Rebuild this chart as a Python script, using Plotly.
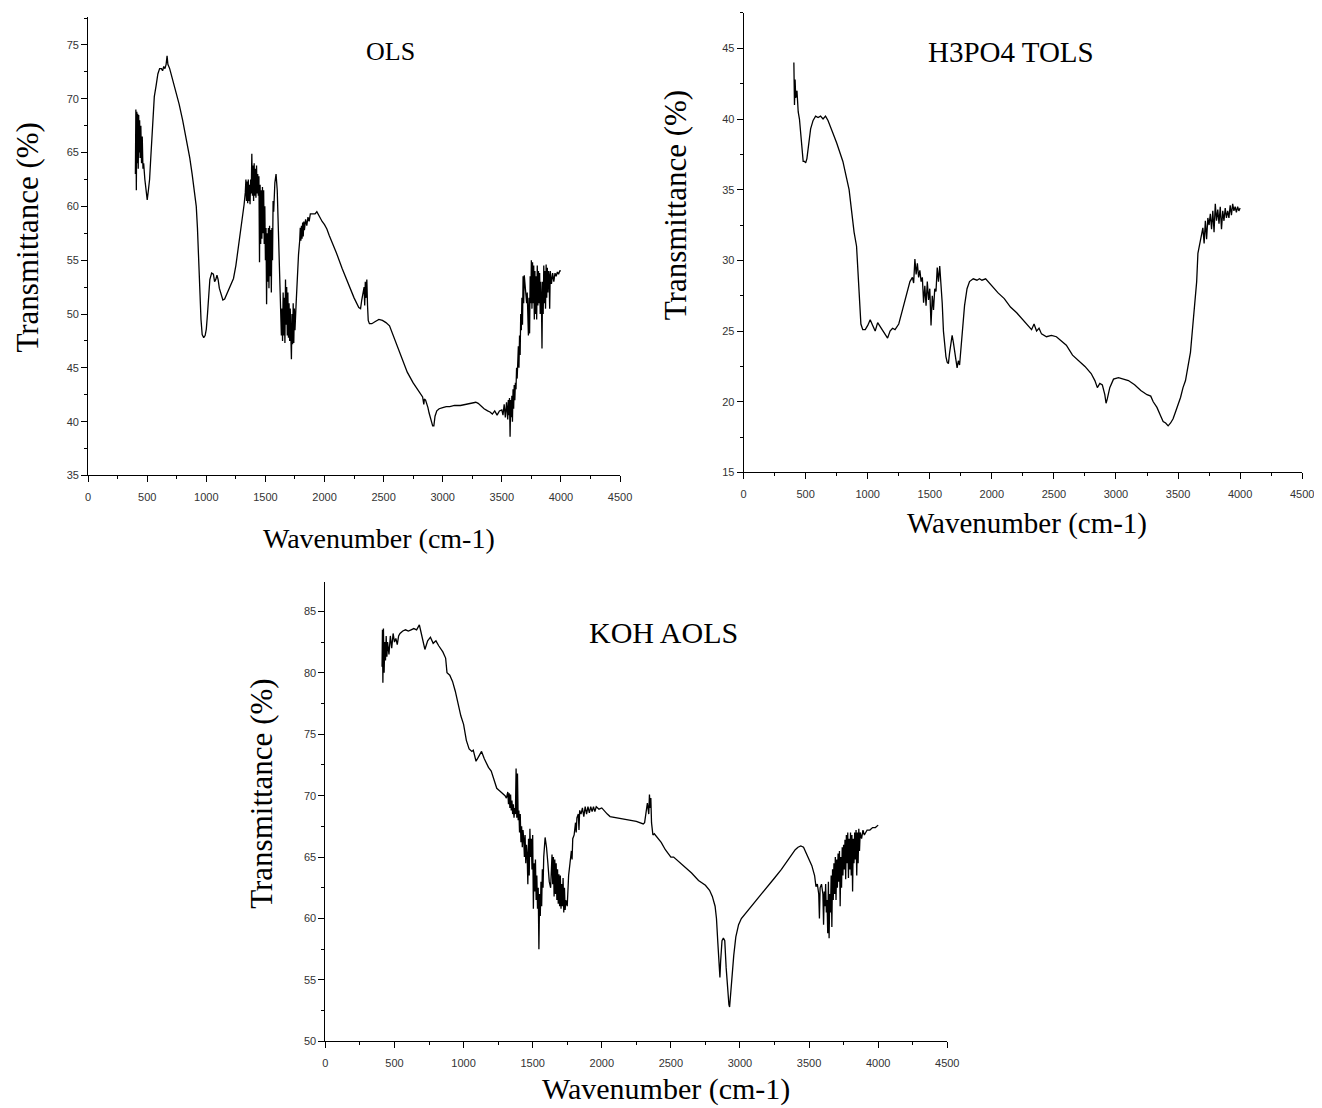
import plotly.graph_objects as go

# ---------------- OLS ----------------
ols_wn = [400, 404, 408, 412, 416, 420, 424, 428, 432, 436, 440, 446, 452, 458, 464, 470, 480, 490, 500, 510,
          520, 530, 540, 550, 560, 575, 590, 605, 620, 630, 640, 650, 660, 668, 675, 690, 710, 740, 770, 800,
          830, 860, 880, 900, 915, 925, 935, 945, 955, 965, 978, 990, 1000, 1010, 1020, 1030, 1045, 1060, 1070, 1080,
          1090, 1100, 1110, 1125, 1140, 1155, 1170, 1190, 1210, 1230, 1250, 1270, 1290, 1310, 1320, 1330, 1335, 1340, 1345, 1350,
          1355, 1360, 1365, 1370, 1375, 1380, 1385, 1390, 1395, 1400, 1405, 1410, 1415, 1420, 1425, 1430, 1435, 1440, 1445, 1450,
          1455, 1460, 1465, 1470, 1475, 1480, 1485, 1490, 1495, 1500, 1505, 1510, 1515, 1520, 1525, 1530, 1535, 1540, 1545, 1550,
          1555, 1560, 1565, 1570, 1580, 1590, 1600, 1608, 1615, 1622, 1630, 1635, 1640, 1645, 1650, 1655, 1660, 1665, 1670, 1675,
          1680, 1685, 1690, 1695, 1700, 1705, 1710, 1715, 1720, 1725, 1730, 1735, 1740, 1745, 1750, 1760, 1770, 1780, 1790, 1795,
          1800, 1805, 1810, 1815, 1820, 1825, 1830, 1840, 1850, 1860, 1870, 1880, 1900, 1920, 1935, 1950, 1965, 1980, 2000, 2020,
          2040, 2060, 2100, 2150, 2200, 2250, 2290, 2305, 2315, 2325, 2335, 2340, 2345, 2350, 2358, 2364, 2370, 2380, 2400, 2430,
          2460, 2490, 2520, 2550, 2575, 2600, 2650, 2700, 2750, 2800, 2830, 2840, 2845, 2855, 2865, 2875, 2885, 2900, 2915, 2925,
          2935, 2950, 2970, 3000, 3030, 3060, 3100, 3150, 3200, 3250, 3280, 3300, 3320, 3350, 3380, 3400, 3420, 3440, 3460, 3480,
          3500, 3510, 3520, 3530, 3540, 3550, 3555, 3560, 3565, 3570, 3575, 3580, 3585, 3590, 3595, 3600, 3605, 3610, 3615, 3620,
          3625, 3630, 3640, 3645, 3650, 3655, 3660, 3665, 3670, 3675, 3680, 3685, 3690, 3700, 3710, 3715, 3720, 3725, 3730, 3735,
          3740, 3745, 3750, 3755, 3760, 3765, 3770, 3775, 3780, 3785, 3790, 3795, 3800, 3805, 3810, 3815, 3820, 3825, 3830, 3835,
          3840, 3845, 3850, 3855, 3860, 3865, 3870, 3875, 3880, 3885, 3890, 3895, 3900, 3905, 3910, 3920, 3930, 3940, 3950, 3960,
          3970, 3980, 3990, 4000]
ols_t = [63, 69, 61.5, 68.8, 64, 68.6, 63.5, 68.5, 65, 68, 64.5, 67.5, 64, 66.5, 63.5, 64, 62.5, 61.2, 60.6, 61.5,
         62.5, 64.5, 66.5, 68.5, 70.2, 71.2, 72.3, 72.8, 72.8, 72.6, 73, 72.8, 73.2, 74, 73.2, 72.8, 72, 70.8, 69.5, 68,
         66.3, 64.5, 63, 61, 60, 58, 55, 52, 49.5, 48.1, 47.8, 48, 48.6, 50, 51.8, 53.2, 53.8, 53.7, 53, 53.2,
         53.6, 53.2, 52.4, 51.8, 51.3, 51.4, 51.8, 52.3, 52.7, 53.3, 54.5, 56, 57.5, 59, 60.2, 61.3, 62.5, 60.5, 62.3, 60.3,
         62.5, 60.5, 62, 60.2, 62.5, 61.2, 64.9, 61, 63.8, 60.5, 64, 61, 63.5, 60.8, 63.8, 61.2, 63, 61, 62.8, 54.8,
         62, 56.5, 61.5, 57, 61.8, 57.5, 61.5, 56.5, 60, 55, 58, 50.9, 57.5, 53, 58, 52.4, 58.2, 53.5, 57.8, 52,
         58, 55, 60.5, 59.5, 62.2, 63, 61.5, 58.5, 56, 53, 50.5, 48, 50.5, 47.5, 52, 48, 51.5, 47.3, 53.2, 49,
         52.5, 48, 52, 47.8, 51, 47.5, 50.5, 46.3, 45.8, 50, 47.2, 51, 47.3, 50.5, 48.5, 51, 53.8, 55.5, 56.8, 58,
         56.8, 58.2, 57, 58.5, 57.2, 58.6, 57.8, 58.8, 58.2, 59, 58.6, 59.3, 59.3, 59.3, 59.5, 59.2, 58.8, 58.6, 58.3, 57.9,
         57.3, 56.8, 55.7, 54.2, 52.8, 51.5, 50.6, 50.5, 51.3, 51.8, 52.5, 50.8, 53, 51.5, 53.2, 50.8, 49.4, 49.1, 49.1, 49.3,
         49.5, 49.4, 49.2, 48.9, 48.2, 47.5, 46.1, 44.6, 43.6, 42.8, 42.3, 41.6, 42.1, 42, 41.7, 41.3, 40.8, 40.2, 39.6, 39.6,
         40.5, 41, 41.2, 41.3, 41.4, 41.4, 41.5, 41.5, 41.6, 41.7, 41.8, 41.7, 41.5, 41.2, 41, 40.9, 40.7, 41, 40.6, 41,
         41.1, 40.6, 41.6, 40.4, 41.8, 40.2, 42, 40.6, 42.2, 38.6, 42, 40.4, 42.4, 40, 43, 41.2, 43.4, 42, 43.6, 43,
         45, 44, 47, 45, 48, 46.2, 50, 48.5, 51.5, 49, 53.5, 51, 53.6, 52.5, 51, 52, 49.5, 48, 51.5, 48.2,
         53.5, 51, 55, 50.5, 54.8, 51, 54.5, 49.5, 54, 50, 53.5, 49.5, 54.5, 50.8, 54, 51, 53.8, 50, 53, 51.5,
         46.8, 53, 50, 54.5, 51, 54, 50.5, 54.6, 51.5, 54.3, 52, 54, 53.5, 50.5, 54, 52.8, 53.8, 53, 53.8, 53.5,
         53.9, 53.7, 54, 54]

# ---------------- H3PO4 TOLS ----------------
tols_wn = [405, 410, 415, 420, 430, 440, 450, 460, 470, 480, 490, 500, 510, 520, 540, 560, 580, 600, 620, 640,
           660, 680, 700, 720, 750, 780, 800, 830, 850, 870, 890, 910, 925, 935, 945, 960, 980, 1000, 1020, 1040,
           1060, 1080, 1100, 1120, 1140, 1160, 1180, 1200, 1220, 1250, 1280, 1310, 1340, 1360, 1370, 1380, 1390, 1400, 1410, 1420,
           1430, 1440, 1450, 1460, 1470, 1480, 1490, 1500, 1510, 1520, 1530, 1540, 1550, 1560, 1570, 1580, 1590, 1600, 1610, 1620,
           1630, 1640, 1650, 1660, 1670, 1680, 1690, 1700, 1710, 1720, 1730, 1740, 1750, 1760, 1780, 1800, 1820, 1850, 1880, 1900,
           1920, 1950, 1980, 2000, 2050, 2100, 2150, 2200, 2250, 2300, 2320, 2340, 2360, 2380, 2400, 2440, 2480, 2520, 2560, 2600,
           2650, 2700, 2750, 2800, 2830, 2850, 2870, 2890, 2910, 2920, 2930, 2950, 2980, 3020, 3060, 3100, 3150, 3200, 3250, 3280,
           3300, 3330, 3360, 3380, 3400, 3420, 3440, 3460, 3480, 3500, 3520, 3540, 3560, 3580, 3600, 3620, 3640, 3650, 3660, 3680,
           3700, 3710, 3720, 3730, 3740, 3750, 3760, 3770, 3780, 3790, 3800, 3810, 3820, 3830, 3840, 3850, 3860, 3870, 3880, 3890,
           3900, 3910, 3920, 3930, 3940, 3950, 3960, 3970, 3980, 3990, 4000]
tols_t = [44, 41, 42.8, 41.5, 42, 40.5, 40, 39, 38, 37, 37, 36.9, 37.2, 38, 39.3, 39.9, 40.2, 40.1, 40.2, 40.0,
          40.2, 39.9, 39.5, 39, 38.3, 37.5, 37, 35.8, 35, 33.5, 32, 31, 28.5, 27, 25.5, 25.1, 25.1, 25.4, 25.8, 25.4,
          25, 25.6, 25.3, 25.1, 24.7, 24.5, 25, 25.2, 25.1, 25.5, 26.5, 27.5, 28.5, 28.8, 28.4, 30.1, 29, 29.8, 28.8, 29.3,
          28.5, 28.8, 27, 28.2, 26.8, 28.5, 27.2, 28, 25.4, 27.5, 26.5, 28, 27.8, 29.5, 28.5, 29.6, 28.5, 27, 25, 24,
          23.2, 22.8, 22.7, 23.5, 24.3, 24.7, 24.2, 23.4, 23, 22.4, 22.9, 22.6, 23.8, 25, 26.8, 28, 28.5, 28.7, 28.6, 28.7,
          28.6, 28.7, 28.4, 28.2, 27.7, 27.3, 26.7, 26.3, 25.8, 25.3, 25.1, 25.5, 25.0, 25.2, 24.8, 24.6, 24.7, 24.6, 24.3, 24.0,
          23.3, 22.9, 22.5, 22.0, 21.5, 21.0, 21.3, 21.2, 20.5, 19.9, 20.2, 21, 21.6, 21.7, 21.6, 21.5, 21.2, 20.8, 20.5, 20.4,
          20.0, 19.6, 19.0, 18.6, 18.5, 18.3, 18.5, 18.8, 19.3, 19.8, 20.3, 21, 21.5, 22.5, 23.5, 25.5, 28, 28.5, 30.5, 31.5,
          32.3, 31.2, 32.8, 31.5, 33, 32.5, 33.3, 32.2, 33.5, 32, 34, 32.8, 33.6, 32.6, 33.8, 32.2, 33.5, 32.8, 33.7, 33,
          33.5, 33, 33.9, 33.2, 34, 33.5, 33.8, 33.4, 33.8, 33.5, 33.7]

# ---------------- KOH AOLS ----------------
aols_wn = [410, 413, 416, 420, 425, 430, 435, 440, 445, 450, 460, 470, 480, 490, 500, 510, 520, 530, 540, 560,
           580, 600, 620, 640, 660, 680, 690, 700, 720, 740, 760, 780, 800, 820, 850, 870, 880, 900, 920, 940,
           960, 980, 1000, 1020, 1040, 1060, 1070, 1090, 1110, 1130, 1150, 1180, 1200, 1220, 1240, 1260, 1280, 1300, 1310, 1320,
           1325, 1330, 1335, 1340, 1345, 1350, 1355, 1360, 1365, 1370, 1375, 1380, 1385, 1390, 1395, 1400, 1405, 1410, 1415, 1420,
           1425, 1430, 1435, 1440, 1445, 1450, 1455, 1460, 1465, 1470, 1475, 1480, 1485, 1490, 1495, 1500, 1505, 1510, 1515, 1520,
           1525, 1530, 1535, 1540, 1545, 1550, 1555, 1560, 1565, 1570, 1575, 1580, 1590, 1600, 1610, 1620, 1630, 1640, 1645, 1650,
           1655, 1660, 1665, 1670, 1675, 1680, 1685, 1690, 1695, 1700, 1705, 1710, 1715, 1720, 1725, 1730, 1735, 1740, 1750, 1760,
           1770, 1780, 1785, 1790, 1800, 1810, 1815, 1820, 1830, 1835, 1840, 1850, 1860, 1870, 1880, 1890, 1900, 1910, 1920, 1930,
           1940, 1950, 1960, 1980, 2000, 2020, 2040, 2060, 2100, 2150, 2200, 2250, 2300, 2310, 2320, 2330, 2340, 2345, 2350, 2355,
           2360, 2370, 2380, 2400, 2430, 2460, 2500, 2520, 2550, 2600, 2650, 2700, 2750, 2780, 2800, 2820, 2830, 2840, 2850, 2855,
           2860, 2870, 2880, 2890, 2900, 2910, 2920, 2925, 2935, 2945, 2955, 2970, 2990, 3010, 3040, 3070, 3100, 3150, 3200, 3250,
           3300, 3350, 3380, 3400, 3420, 3440, 3460, 3480, 3500, 3520, 3540, 3550, 3560, 3570, 3575, 3580, 3590, 3600, 3605, 3610,
           3615, 3620, 3625, 3630, 3635, 3640, 3645, 3650, 3655, 3660, 3665, 3670, 3675, 3680, 3685, 3690, 3695, 3700, 3705, 3710,
           3715, 3720, 3725, 3730, 3735, 3740, 3745, 3750, 3755, 3760, 3765, 3770, 3775, 3780, 3785, 3790, 3795, 3800, 3805, 3810,
           3815, 3820, 3825, 3830, 3835, 3840, 3845, 3850, 3855, 3860, 3865, 3870, 3880, 3890, 3900, 3920, 3940, 3960, 3980, 4000]
aols_t = [80.5, 83.5, 79.2, 83.6, 80, 82.5, 81, 83, 81.3, 82.5, 81.5, 83, 82, 83.2, 82.5, 82.8, 82.3, 83, 83.2, 83.4,
          83.5, 83.4, 83.5, 83.6, 83.5, 83.9, 83.4, 82.8, 81.9, 82.6, 82.9, 82.4, 82.6, 82.2, 81.7, 81.2, 80, 79.8, 79.3, 78.5,
          77.4, 76.5, 75.8, 74.5, 73.8, 73.6, 73.7, 72.8, 73.2, 73.6, 73, 72.3, 72, 71.3, 70.6, 70.4, 70.2, 70, 69.8, 70.3,
          69.3, 70.2, 69, 70.1, 68.8, 69.6, 68.5, 69.3, 68.2, 69, 68.5, 72.2, 68.2, 71.8, 68, 68.8, 67, 68.5, 66.2, 67.5,
          65.8, 67.2, 66.5, 65, 66.8, 64.5, 66, 65.2, 62.8, 66.5, 63.5, 67.3, 65, 66.5, 64, 66.8, 60.8, 64.5, 62.2, 64.8,
          61.5, 63.5, 60.8, 62.5, 57.5, 62, 60.2, 63, 61, 64, 62.5, 65, 66.6, 65.8, 64.5, 63, 62.5, 65.2, 62.8, 65,
          61.8, 64.8, 62, 64.5, 61.5, 64, 61.2, 63.6, 61, 63.5, 60.8, 62.8, 61, 63.3, 60.5, 62.5, 60.7, 61.5, 61, 63.5,
          64.5, 65.5, 64.8, 66.5, 66.8, 67.8, 67, 68.2, 68.5, 67.2, 68.8, 68.5, 69, 68.3, 69.1, 68.5, 69.1, 68.6, 69.1, 68.7,
          69.1, 68.7, 69.1, 68.9, 69, 68.7, 68.5, 68.3, 68.2, 68.1, 68, 67.9, 67.7, 67.8, 68.5, 69.4, 68.5, 70.1, 69, 69.8,
          67.8, 66.8, 66.9, 66.6, 66.2, 65.6, 65, 65, 64.7, 64.2, 63.7, 63.1, 62.7, 62.3, 61.8, 61, 60, 58, 55.5, 55.2,
          56.5, 58.2, 58.4, 58.2, 56, 54, 53, 52.8, 54.5, 56, 57, 58.5, 59.5, 60, 60.4, 60.8, 61.2, 61.9, 62.6, 63.3,
          64, 64.8, 65.3, 65.6, 65.8, 65.9, 65.8, 65.3, 64.8, 64.3, 63.5, 62.6, 62.8, 62, 60, 62.5, 62.8, 62, 59.5, 62.2,
          61, 62.8, 60.5, 61.5, 58.8, 63, 58.4, 62, 60.5, 63.5, 59.3, 64, 61.5, 64.5, 62, 65, 61.5, 64.8, 62.5, 65.3,
          63, 65.5, 61, 65, 62.5, 65.8, 63.5, 66, 64, 66.4, 63.2, 66.8, 64.5, 67, 63.3, 66.5, 64, 67, 63.5, 66.8,
          62.2, 66.5, 64.5, 67, 64.8, 67.2, 63.5, 67, 64.5, 67.3, 65.5, 67, 66.5, 67.2, 66.8, 67.2, 67.2, 67.4, 67.4, 67.6]

x_ticks = [0, 500, 1000, 1500, 2000, 2500, 3000, 3500, 4000, 4500]

W, H = 1322, 1108

panels = [
    dict(name="OLS", wn=ols_wn, t=ols_t, px=(78, 616), py=(9, 470), yr=(35, 77.6),
         ttl=(384, 44), tsize=26, xt=(372, 533), xsize=28, yt=(17, 231)),
    dict(name="H3PO4 TOLS", wn=tols_wn, t=tols_t, px=(741, 1306), py=(5, 467), yr=(15, 47.5),
         ttl=(1011, 44), tsize=29, xt=(1028, 518), xsize=29, yt=(673, 198)),
    dict(name="KOH AOLS", wn=aols_wn, t=aols_t, px=(318, 947), py=(577, 1039), yr=(50, 87.4),
         ttl=(660, 628), tsize=30, xt=(663, 1087), xsize=30, yt=(254, 790)),
]

fig = go.Figure()
annotations = []
serif = "Liberation Serif, Times New Roman, serif"
tickfont = dict(family="Liberation Sans, Arial, sans-serif", size=11, color="#333")

for i, p in enumerate(panels, start=1):
    xa = "x" if i == 1 else f"x{i}"
    ya = "y" if i == 1 else f"y{i}"
    fig.add_trace(go.Scatter(x=p["wn"], y=p["t"], mode="lines",
                             line=dict(color="black", width=1.3),
                             xaxis=xa, yaxis=ya, showlegend=False))
    xkey = "xaxis" if i == 1 else f"xaxis{i}"
    ykey = "yaxis" if i == 1 else f"yaxis{i}"
    fig.update_layout(**{
        xkey: dict(domain=[p["px"][0] / W, p["px"][1] / W], range=[0, 4500], anchor=ya,
                   tickvals=x_ticks, ticks="outside", ticklen=6, tickwidth=1, tickcolor="black",
                   showline=True, linecolor="black", linewidth=1, showgrid=False, zeroline=False,
                   tickfont=tickfont, ticklabelstandoff=5,
                   minor=dict(dtick=250, tick0=0, ticks="outside", ticklen=3, tickcolor="black", showgrid=False)),
        ykey: dict(domain=[1 - p["py"][1] / H, 1 - p["py"][0] / H], range=list(p["yr"]), anchor=xa,
                   tick0=0, dtick=5, ticks="outside", ticklen=6, tickwidth=1, tickcolor="black",
                   showline=True, linecolor="black", linewidth=1, showgrid=False, zeroline=False,
                   tickfont=tickfont,
                   minor=dict(dtick=2.5, tick0=0, ticks="outside", ticklen=3, tickcolor="black", showgrid=False)),
    })
    annotations.append(dict(text=p["name"], x=p["ttl"][0] / W, y=1 - p["ttl"][1] / H, xref="paper", yref="paper",
                            showarrow=False, font=dict(family=serif, size=p["tsize"], color="black"),
                            xanchor="center", yanchor="middle"))
    annotations.append(dict(text="Wavenumber (cm-1)", x=p["xt"][0] / W, y=1 - p["xt"][1] / H, xref="paper",
                            yref="paper", showarrow=False, font=dict(family=serif, size=p["xsize"], color="black"),
                            xanchor="center", yanchor="middle"))
    annotations.append(dict(text="Transmittance (%)", x=p["yt"][0] / W, y=1 - p["yt"][1] / H, xref="paper",
                            yref="paper", showarrow=False, textangle=-90,
                            font=dict(family=serif, size=31, color="black"),
                            xanchor="center", yanchor="middle"))

fig.update_layout(width=W, height=H, margin=dict(l=0, r=0, t=0, b=0),
                  paper_bgcolor="white", plot_bgcolor="white", annotations=annotations)

fig.write_html("out.html")
